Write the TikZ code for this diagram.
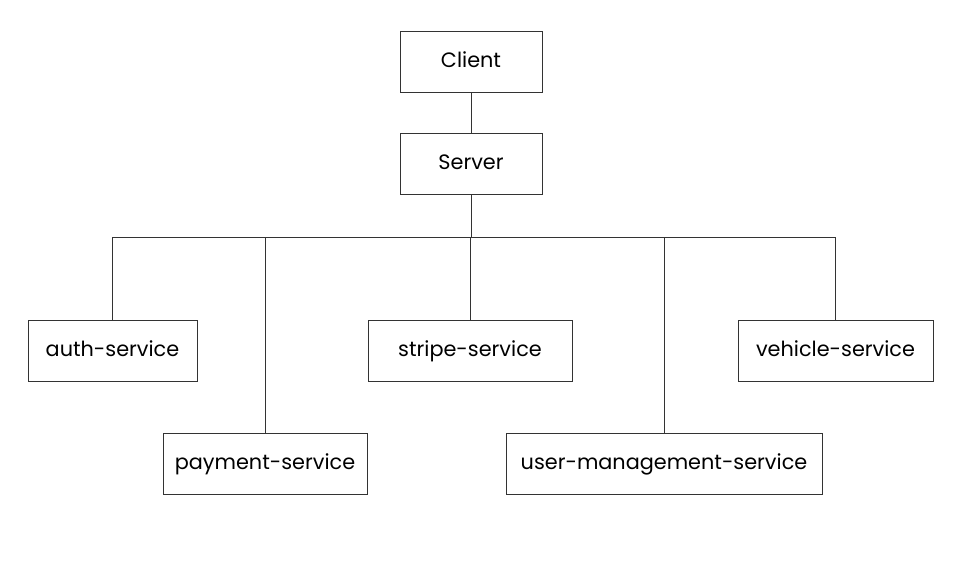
\documentclass[tikz,border=0pt]{standalone}
\usepackage{fontspec}
\setmainfont{Poppins}
\begin{document}
\begin{tikzpicture}[x=1pt,y=-1pt,
  box/.style={draw=black!80,line width=0.9pt,fill=white,inner sep=0pt,font=\fontsize{20.8}{24}\selectfont,text=black,text height=2.6ex,text depth=0.3ex},
  link/.style={draw=black!80,line width=0.9pt}]
\useasboundingbox[fill=white] (0,0) rectangle (965,566);
\node[box,minimum width=142pt,minimum height=61pt] (client) at (471,61.5) {Client};
\node[box,minimum width=142pt,minimum height=61pt] (server) at (471,163.5) {Server};
\node[box,minimum width=169pt,minimum height=61pt] (auth) at (112.5,350.5) {auth-service};
\node[box,minimum width=204pt,minimum height=61pt] (payment) at (265,463.5) {payment-service};
\node[box,minimum width=204pt,minimum height=61pt] (stripe) at (470,350.5) {stripe-service};
\node[box,minimum width=316pt,minimum height=61pt] (user) at (664,463.5) {user-management-service};
\node[box,minimum width=195pt,minimum height=61pt] (vehicle) at (835.5,350.5) {vehicle-service};
\coordinate (bus) at (0,237);
\draw[link] (client.south) -- (server.north);
\draw[link] (server.south) -- (server.south |- bus);
\draw[link] (auth.north |- bus) -- (vehicle.north |- bus);
\draw[link] (auth.north) -- (auth.north |- bus);
\draw[link] (payment.north) -- (payment.north |- bus);
\draw[link] (stripe.north) -- (stripe.north |- bus);
\draw[link] (user.north) -- (user.north |- bus);
\draw[link] (vehicle.north) -- (vehicle.north |- bus);
\end{tikzpicture}
\end{document}
